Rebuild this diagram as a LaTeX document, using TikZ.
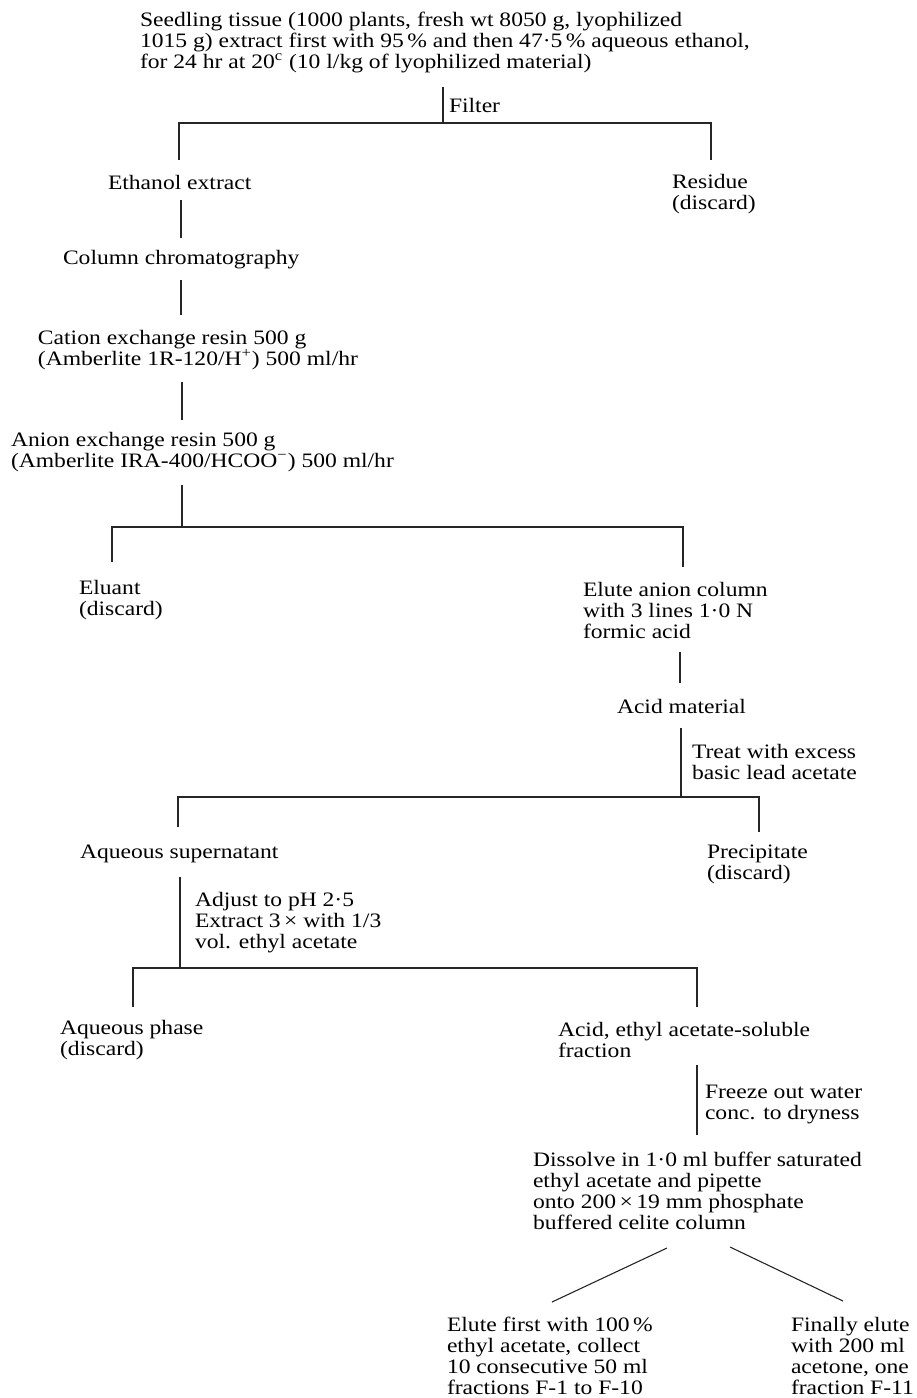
\documentclass[tikz,border=0pt]{standalone}
\usepackage{fontspec}
\setmainfont{Liberation Serif}[FakeStretch=1.15]
\newcommand{\fl}{\rule{0pt}{8pt}}
\begin{document}
\begin{tikzpicture}[x=0.5pt,y=-0.5pt,
  txt/.style={anchor=north west,inner sep=0pt,outer sep=0pt,align=left,
              font=\fontsize{10.25}{10.5}\selectfont},
  ln/.style={line width=0.55pt,black!85}]
\useasboundingbox (0,0) rectangle (916,1398);

% ---------- texts ----------
\node[txt] (seed) at (140,10) {\fl Seedling tissue (1000 plants, fresh wt 8050 g, lyophilized\\1015 g) extract first with 95\,\% and then 47·5\,\% aqueous ethanol,\\for 24 hr at 20\textsuperscript{c} (10 l/kg of lyophilized material)};
\node[txt] (filter) at (449,96) {\fl Filter};
\node[txt] (eth) at (108,173) {\fl Ethanol extract};
\node[txt] (res) at (672,172) {\fl Residue\\(discard)};
\node[txt] (col) at (63,248) {\fl Column chromatography};
\node[txt] (cat) at (38,328) {\fl Cation exchange resin 500 g\\(Amberlite 1R-120/H\textsuperscript{+}) 500 ml/hr};
\node[txt] (ani) at (11,430) {\fl Anion exchange resin 500 g\\(Amberlite IRA-400/HCOO\textsuperscript{−}) 500 ml/hr};
\node[txt] (elu) at (79,578) {\fl Eluant\\(discard)};
\node[txt] (eac) at (583,580) {\fl Elute anion column\\with 3 lines 1·0 N\\formic acid};
\node[txt] (acm) at (617,697) {\fl Acid material};
\node[txt] (treat) at (692,742) {\fl Treat with excess\\basic lead acetate};
\node[txt] (aqs) at (80,842) {\fl Aqueous supernatant};
\node[txt] (prec) at (707,842) {\fl Precipitate\\(discard)};
\node[txt] (adj) at (195,890) {\fl Adjust to pH 2·5\\Extract 3\,× with 1/3\\vol. ethyl acetate};
\node[txt] (aqp) at (60,1018) {\fl Aqueous phase\\(discard)};
\node[txt] (aef) at (558,1020) {\fl Acid, ethyl acetate-soluble\\fraction};
\node[txt] (frz) at (705,1082) {\fl Freeze out water\\conc. to dryness};
\node[txt] (dis) at (533,1150) {\fl Dissolve in 1·0 ml buffer saturated\\ethyl acetate and pipette\\onto 200\,×\,19 mm phosphate\\buffered celite column};
\node[txt] (fa) at (447,1315) {\fl Elute first with 100\,\%\\ethyl acetate, collect\\10 consecutive 50 ml\\fractions F-1 to F-10};
\node[txt] (fb) at (791,1315) {\fl Finally elute\\with 200 ml\\acetone, one\\fraction F-11};

% ---------- connector end points ----------
\coordinate (f0) at (443,87);   \coordinate (f1) at (443,123);
\coordinate (b0a) at (179,160); \coordinate (b0b) at (179,123);
\coordinate (b0c) at (711,123); \coordinate (b0d) at (711,160);
\coordinate (s1a) at (181,200); \coordinate (s1b) at (181,238);
\coordinate (s2a) at (181,280); \coordinate (s2b) at (181,315);
\coordinate (s3a) at (182,382); \coordinate (s3b) at (182,420);
\coordinate (s4a) at (182,485); \coordinate (s4b) at (182,527);
\coordinate (b1a) at (112,562); \coordinate (b1b) at (112,527);
\coordinate (b1c) at (683,527); \coordinate (b1d) at (683,567);
\coordinate (s5a) at (680,652); \coordinate (s5b) at (680,683);
\coordinate (s6a) at (681,728); \coordinate (s6b) at (681,797);
\coordinate (b2a) at (178,827); \coordinate (b2b) at (178,797);
\coordinate (b2c) at (759,797); \coordinate (b2d) at (759,832);
\coordinate (s7a) at (180,877); \coordinate (s7b) at (180,968);
\coordinate (b3a) at (133,1007); \coordinate (b3b) at (133,968);
\coordinate (b3c) at (697,968);  \coordinate (b3d) at (697,1007);
\coordinate (s8a) at (697,1065); \coordinate (s8b) at (697,1135);
\coordinate (d1a) at (667,1248); \coordinate (d1b) at (552,1302);
\coordinate (d2a) at (730,1247); \coordinate (d2b) at (843,1301);

% ---------- connectors ----------
\draw[ln] (f0) -- (f1);
\draw[ln] (b0a) -- (b0b) -- (b0c) -- (b0d);
\draw[ln] (s1a) -- (s1b);
\draw[ln] (s2a) -- (s2b);
\draw[ln] (s3a) -- (s3b);
\draw[ln] (s4a) -- (s4b);
\draw[ln] (b1a) -- (b1b) -- (b1c) -- (b1d);
\draw[ln] (s5a) -- (s5b);
\draw[ln] (s6a) -- (s6b);
\draw[ln] (b2a) -- (b2b) -- (b2c) -- (b2d);
\draw[ln] (s7a) -- (s7b);
\draw[ln] (b3a) -- (b3b) -- (b3c) -- (b3d);
\draw[ln] (s8a) -- (s8b);
\draw[ln] (d1a) -- (d1b);
\draw[ln] (d2a) -- (d2b);
\end{tikzpicture}
\end{document}
